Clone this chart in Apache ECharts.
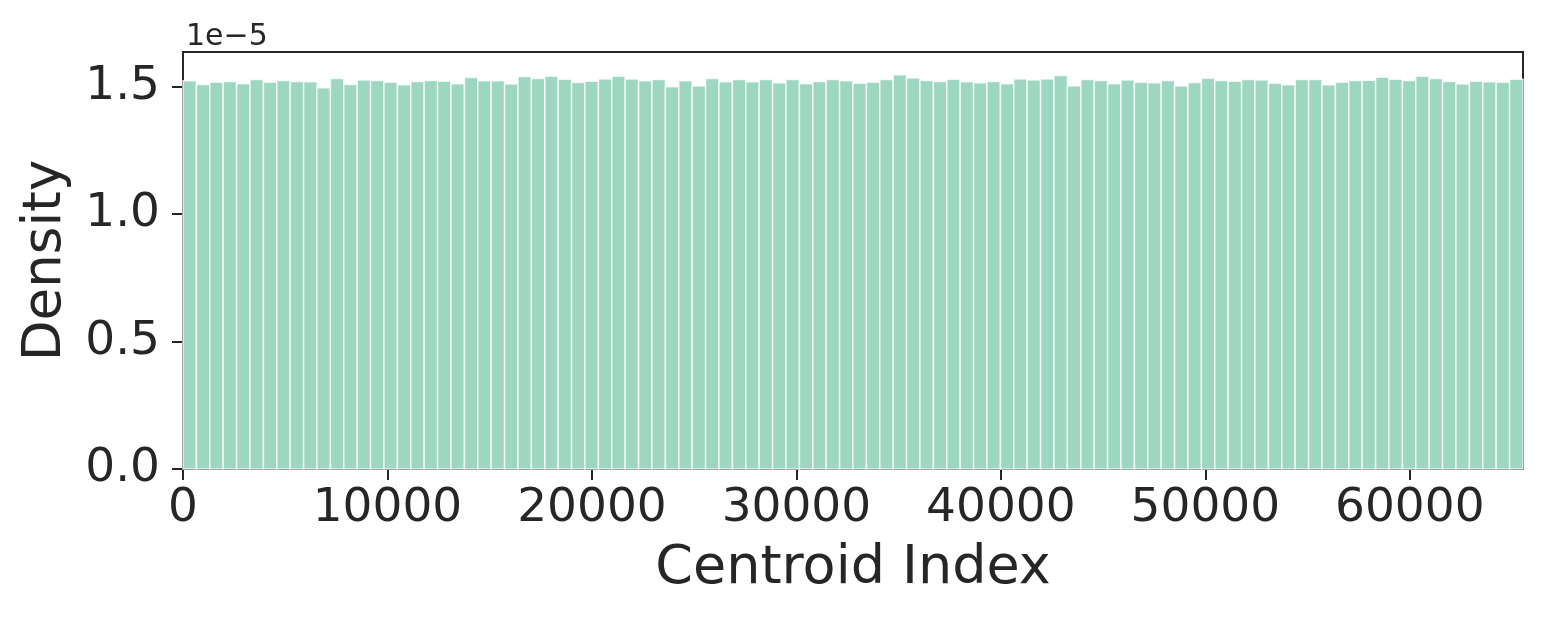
<!DOCTYPE html>
<html>
<head>
<meta charset="utf-8">
<script src="https://cdn.jsdelivr.net/npm/echarts@6/dist/echarts.min.js"></script>
<style>
  html, body { margin: 0; padding: 0; background: #fff; }
  #chart { width: 1545px; height: 623px; }
</style>
</head>
<body>
<div id="chart"></div>
<script>
// histogram of centroid index, 100 bins over [0, 65536), density in units of 1e-5
const xMin = 0;
const xMax = 65536;
const binCount = 100;
const density = [
  1.522, 1.508, 1.516, 1.519, 1.511, 1.527, 1.516, 1.523, 1.519, 1.518,
  1.495, 1.531, 1.508, 1.525, 1.523, 1.516, 1.507, 1.519, 1.523, 1.520,
  1.511, 1.535, 1.522, 1.522, 1.510, 1.539, 1.531, 1.540, 1.528, 1.515,
  1.520, 1.529, 1.540, 1.529, 1.522, 1.527, 1.499, 1.522, 1.502, 1.531,
  1.518, 1.527, 1.518, 1.527, 1.514, 1.527, 1.511, 1.519, 1.527, 1.522,
  1.512, 1.516, 1.527, 1.546, 1.533, 1.523, 1.519, 1.528, 1.518, 1.514,
  1.519, 1.511, 1.529, 1.525, 1.529, 1.543, 1.502, 1.527, 1.523, 1.511,
  1.525, 1.516, 1.514, 1.523, 1.502, 1.515, 1.532, 1.523, 1.520, 1.527,
  1.525, 1.512, 1.507, 1.527, 1.527, 1.507, 1.516, 1.523, 1.524, 1.536,
  1.528, 1.523, 1.540, 1.531, 1.519, 1.510, 1.520, 1.518, 1.516, 1.528
];
const xTicks = [0, 10000, 20000, 30000, 40000, 50000, 60000];
const yTicks = [0, 0.5, 1.0, 1.5];
const yMax = 1.635;

const textColor = "#262626";
const font = "DejaVu Sans";

// bin edges + height for each bar
const binWidth = (xMax - xMin) / binCount;
const bars = density.map((d, i) => [xMin + i * binWidth, xMin + (i + 1) * binWidth, d]);

const chart = echarts.init(document.getElementById("chart"), null, { renderer: "canvas" });

chart.setOption({
  animation: false,
  backgroundColor: "#ffffff",
  title: {
    text: "1e\u22125",
    left: 181,
    top: 17,
    textStyle: { fontFamily: font, fontSize: 30, fontWeight: "normal", color: textColor },
  },
  grid: {
    left: 183,
    right: 22,
    top: 52,
    bottom: 154,
    show: true,
    borderColor: textColor,
    borderWidth: 2,
    backgroundColor: "transparent",
  },
  xAxis: {
    type: "value",
    min: xMin,
    max: xMax,
    name: "Centroid Index",
    nameLocation: "middle",
    nameGap: 73,
    nameTextStyle: { fontFamily: font, fontSize: 54, color: textColor },
    splitLine: { show: false },
    axisLine: { show: true, lineStyle: { color: textColor, width: 2 } },
    axisTick: {
      show: true,
      inside: false,
      length: 11,
      customValues: xTicks,
      lineStyle: { color: textColor, width: 2 },
    },
    axisLabel: {
      customValues: xTicks,
      margin: 16,
      fontFamily: font,
      fontSize: 47,
      color: textColor,
      formatter: (v) => String(v),
    },
  },
  yAxis: {
    type: "value",
    min: 0,
    max: yMax,
    name: "Density",
    nameLocation: "middle",
    nameGap: 110,
    nameTextStyle: { fontFamily: font, fontSize: 53, color: textColor },
    splitLine: { show: false },
    axisLine: { show: true, lineStyle: { color: textColor, width: 2 } },
    axisTick: {
      show: true,
      inside: false,
      length: 11,
      customValues: yTicks,
      lineStyle: { color: textColor, width: 2 },
    },
    axisLabel: {
      customValues: yTicks,
      margin: 23,
      fontFamily: font,
      fontSize: 47,
      color: textColor,
      formatter: (v) => v.toFixed(1),
    },
  },
  series: [
    {
      type: "custom",
      data: bars,
      encode: { x: [0, 1], y: 2 },
      renderItem: (params, api) => {
        const p0 = api.coord([api.value(0), api.value(2)]);
        const p1 = api.coord([api.value(1), 0]);
        return {
          type: "rect",
          shape: { x: p0[0], y: p0[1], width: p1[0] - p0[0], height: p1[1] - p0[1] },
          style: { fill: "#9ed7c1", stroke: "rgba(255,255,255,0.75)", lineWidth: 1.5 },
        };
      },
    },
  ],
});
</script>
</body>
</html>
